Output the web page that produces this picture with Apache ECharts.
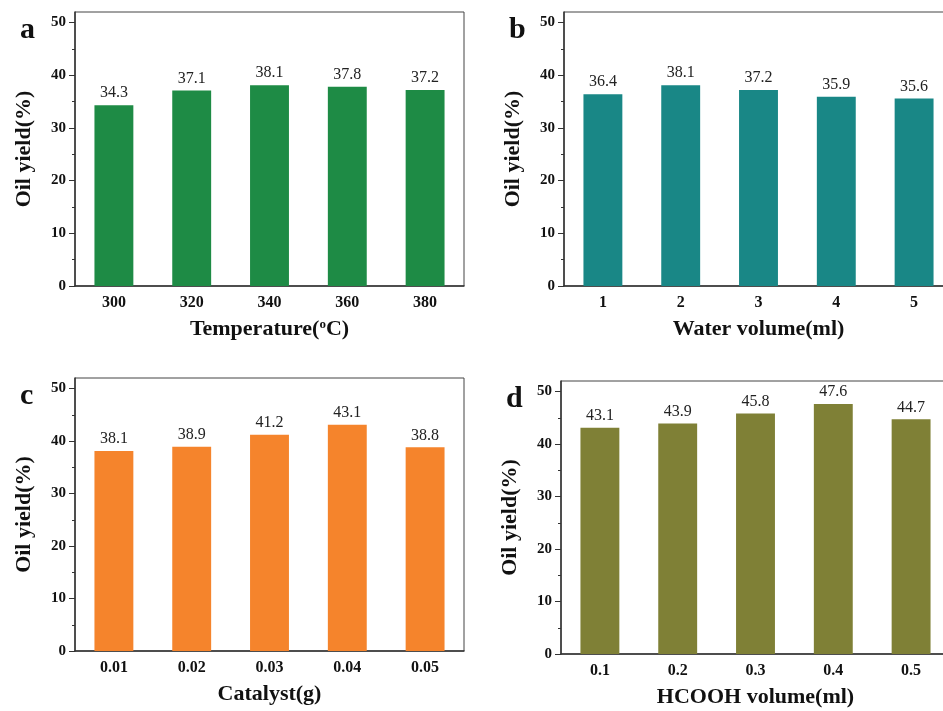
<!DOCTYPE html>
<html>
<head>
<meta charset="utf-8">
<script src="https://cdn.jsdelivr.net/npm/echarts@6/dist/echarts.min.js"></script>
<style>
  html, body { margin: 0; padding: 0; background: #fff; overflow: hidden; }
  /* a bit wider than the window: the right-hand panels are cut off at the edge */
  #main { width: 960px; height: 711px; }
</style>
</head>
<body>
<div id="main"></div>
<script>
// data
var tempCats = ['300', '320', '340', '360', '380'];
var tempYield = [34.3, 37.1, 38.1, 37.8, 37.2];

var waterCats = ['1', '2', '3', '4', '5'];
var waterYield = [36.4, 38.1, 37.2, 35.9, 35.6];

var catalystCats = ['0.01', '0.02', '0.03', '0.04', '0.05'];
var catalystYield = [38.1, 38.9, 41.2, 43.1, 38.8];

var hcoohCats = ['0.1', '0.2', '0.3', '0.4', '0.5'];
var hcoohYield = [43.1, 43.9, 45.8, 47.6, 44.7];

var yTicks = [0, 10, 20, 30, 40, 50];
var yMinorTicks = [5, 15, 25, 35, 45];

var FONT = '"Liberation Serif", "Times New Roman", serif';
var AXIS = '#333';

var Chart = echarts.init(document.getElementById('main'));

var panels = [
  { letter: 'a', cats: tempCats, vals: tempYield, color: '#1e8b45',
    xName: 'Temperature({sup|o}C)', grid: { left: 75, top: 12, width: 389, height: 274 } },
  { letter: 'b', cats: waterCats, vals: waterYield, color: '#198786',
    xName: 'Water volume(ml)', grid: { left: 564, top: 12, width: 389, height: 274 } },
  { letter: 'c', cats: catalystCats, vals: catalystYield, color: '#f5842c',
    xName: 'Catalyst(g)', grid: { left: 75, top: 378, width: 389, height: 273 } },
  { letter: 'd', cats: hcoohCats, vals: hcoohYield, color: '#7f8036',
    xName: 'HCOOH volume(ml)', grid: { left: 561, top: 381, width: 389, height: 273 } }
];

var grids = [], xAxes = [], yAxes = [], series = [], graphics = [];

panels.forEach(function (p, i) {
  grids.push(Object.assign({
    show: true, borderColor: '#444', borderWidth: 1, backgroundColor: 'transparent'
  }, p.grid));

  // main x axis
  xAxes.push({
    type: 'category', gridIndex: i, data: p.cats,
    name: p.xName, nameLocation: 'middle', nameGap: 32,
    nameTextStyle: {
      fontFamily: FONT, fontWeight: 'bold', fontSize: 22, color: '#111',
      rich: { sup: { fontFamily: FONT, fontSize: 13, fontWeight: 'bold', verticalAlign: 'top', padding: [0, 0, 10, 0], color: '#111' } }
    },
    axisLine: { lineStyle: { color: AXIS, width: 1.5 } },
    axisTick: { alignWithLabel: true, length: 6, lineStyle: { color: AXIS } },
    axisLabel: { fontFamily: FONT, fontWeight: 'bold', fontSize: 16, color: '#111', margin: 9 },
    splitLine: { show: false }
  });
  // minor x ticks at band edges
  xAxes.push({
    type: 'category', gridIndex: i, data: p.cats, position: 'bottom',
    axisLine: { show: false },
    axisTick: { alignWithLabel: false, length: 3, lineStyle: { color: AXIS } },
    axisLabel: { show: false },
    splitLine: { show: false }
  });

  // main y axis
  yAxes.push({
    type: 'value', gridIndex: i, min: 0, max: 52, interval: 10,
    name: 'Oil yield(%)', nameLocation: 'middle', nameGap: 40,
    nameTextStyle: { fontFamily: FONT, fontWeight: 'bold', fontSize: 22, color: '#111' },
    axisLine: { show: true, lineStyle: { color: AXIS, width: 1.5 } },
    axisTick: { show: true, length: 6, customValues: yTicks, lineStyle: { color: AXIS } },
    axisLabel: { fontFamily: FONT, fontWeight: 'bold', fontSize: 15, color: '#111', margin: 9, customValues: yTicks },
    splitLine: { show: false }
  });
  // minor y ticks
  yAxes.push({
    type: 'value', gridIndex: i, min: 0, max: 52, position: 'left', offset: 0,
    axisLine: { show: false },
    axisTick: { show: true, length: 3, customValues: yMinorTicks, lineStyle: { color: AXIS } },
    axisLabel: { show: false },
    splitLine: { show: false }
  });

  series.push({
    type: 'bar', xAxisIndex: 2 * i, yAxisIndex: 2 * i, data: p.vals,
    barWidth: '50%',
    itemStyle: { color: p.color },
    label: {
      show: true, position: 'top', distance: 4,
      fontFamily: FONT, fontSize: 16, color: '#222'
    }
  });

  graphics.push({
    type: 'text',
    left: p.grid.left - 55, top: p.grid.top + 3,
    style: { text: p.letter, fontFamily: FONT, fontWeight: 'bold', fontSize: 30, fill: '#111' }
  });
});

var option = {
  backgroundColor: '#fff',
  animation: false,
  grid: grids,
  xAxis: xAxes,
  yAxis: yAxes,
  series: series,
  graphic: graphics
};

Chart.setOption(option);
</script>
</body>
</html>
